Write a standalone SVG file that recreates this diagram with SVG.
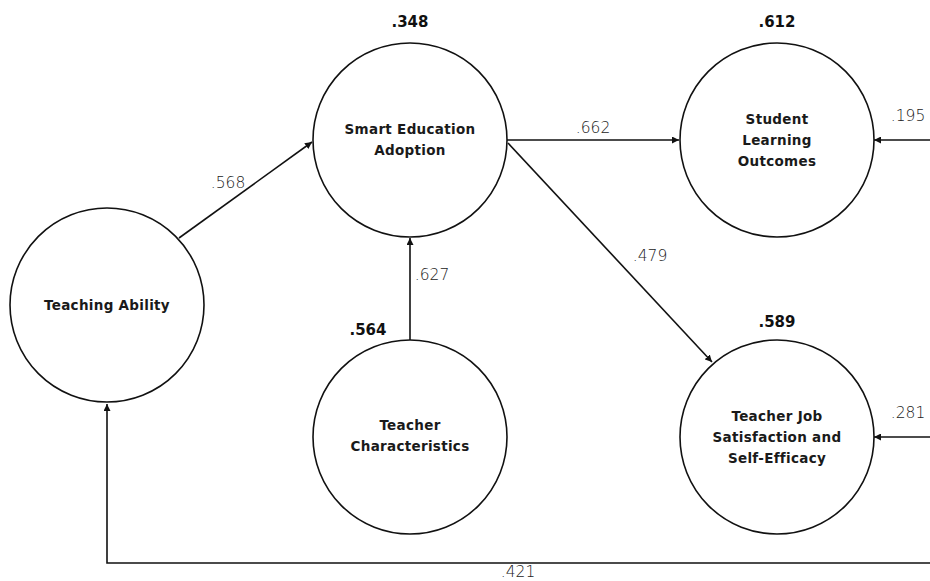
<svg xmlns="http://www.w3.org/2000/svg" width="930" height="581" viewBox="0 0 930 581">
<style>
.node{fill:#fff;stroke:#111;stroke-width:1.6}
.nt{font-family:"DejaVu Sans",sans-serif;font-weight:bold;font-size:13.5px;letter-spacing:0.3px;fill:#1a1a1a;text-anchor:middle}
.r2{font-family:"DejaVu Sans",sans-serif;font-weight:bold;font-size:15px;fill:#111;text-anchor:middle}
.cf{font-family:"DejaVu Sans",sans-serif;font-weight:300;font-size:15.5px;fill:#222;text-anchor:middle}
.edge{fill:none;stroke:#111;stroke-width:1.6}
</style>
<defs>
<marker id="ah" viewBox="0 0 10 10" refX="10" refY="5" markerWidth="7" markerHeight="7" markerUnits="userSpaceOnUse" orient="auto">
<path d="M0,0 L10,5 L0,10 z" fill="#111"/>
</marker>
</defs>
<rect width="930" height="581" fill="#fff"/>
<g id="connectors">
<line class="edge" x1="179" y1="238" x2="312" y2="142" marker-end="url(#ah)"/>
<line class="edge" x1="507" y1="140" x2="679" y2="140" marker-end="url(#ah)"/>
<line class="edge" x1="508" y1="143" x2="712" y2="362" marker-end="url(#ah)"/>
<line class="edge" x1="410" y1="340" x2="410" y2="238" marker-end="url(#ah)"/>
<line class="edge" x1="930" y1="140" x2="874" y2="140" marker-end="url(#ah)"/>
<line class="edge" x1="930" y1="437" x2="874" y2="437" marker-end="url(#ah)"/>
<polyline class="edge" points="930,563 107,563 107,404" marker-end="url(#ah)"/>
<text class="cf" x="228" y="188">.568</text>
<text class="cf" x="593" y="133">.662</text>
<text class="cf" x="650" y="261">.479</text>
<text class="cf" x="432" y="280">.627</text>
<text class="cf" x="908" y="121">.195</text>
<text class="cf" x="908" y="418">.281</text>
<text class="cf" x="518" y="577" font-size="14">.421</text>
</g>
<g id="teaching-ability">
<circle class="node" cx="107" cy="305" r="97"/>
<text class="nt" x="107" y="310">Teaching Ability</text>
</g>
<g id="smart-education-adoption">
<circle class="node" cx="410" cy="140" r="97"/>
<text class="r2" x="410" y="27">.348</text>
<text class="nt" x="410" y="134">Smart Education</text>
<text class="nt" x="410" y="155">Adoption</text>
</g>
<g id="teacher-characteristics">
<circle class="node" cx="410" cy="437" r="97"/>
<text class="r2" x="368" y="335">.564</text>
<text class="nt" x="410" y="430">Teacher</text>
<text class="nt" x="410" y="451">Characteristics</text>
</g>
<g id="student-learning-outcomes">
<circle class="node" cx="777" cy="140" r="97"/>
<text class="r2" x="777" y="27">.612</text>
<text class="nt" x="777" y="124">Student</text>
<text class="nt" x="777" y="145">Learning</text>
<text class="nt" x="777" y="166">Outcomes</text>
</g>
<g id="teacher-job-satisfaction">
<circle class="node" cx="777" cy="437" r="97"/>
<text class="r2" x="777" y="327">.589</text>
<text class="nt" x="777" y="421">Teacher Job</text>
<text class="nt" x="777" y="442">Satisfaction and</text>
<text class="nt" x="777" y="463">Self-Efficacy</text>
</g>
</svg>
